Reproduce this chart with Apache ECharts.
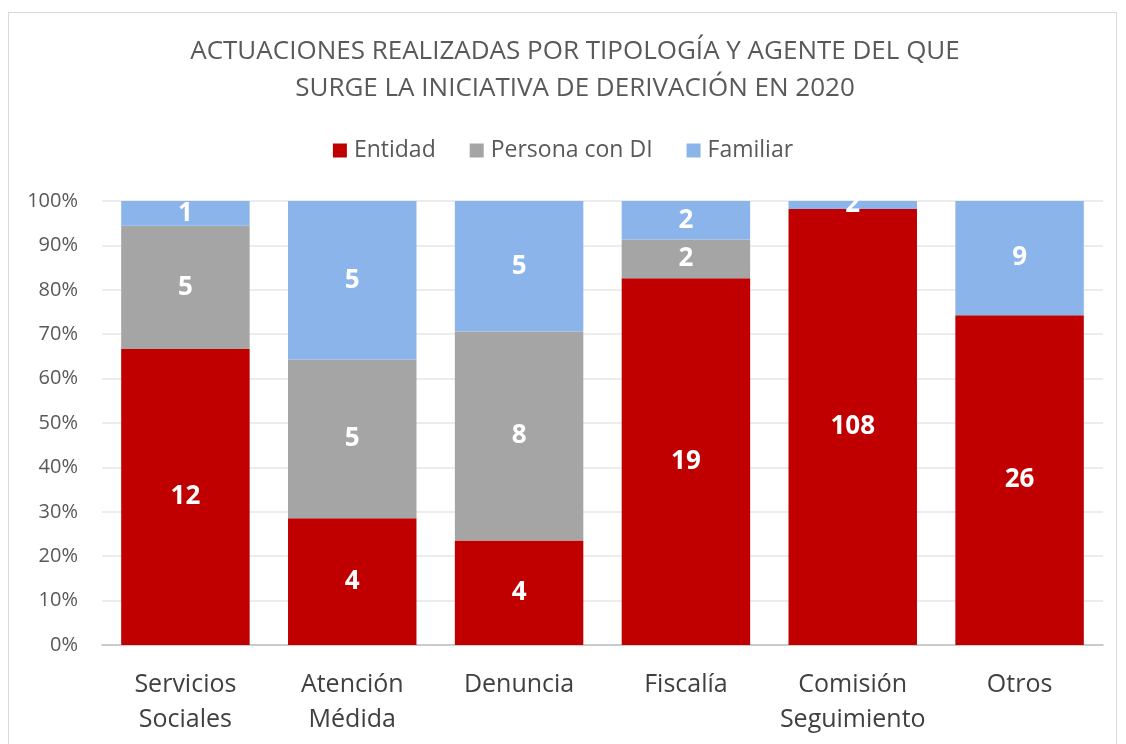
<!DOCTYPE html>
<html>
<head>
<meta charset="utf-8">
<script src="https://cdn.jsdelivr.net/npm/echarts@6/dist/echarts.min.js"></script>
<style>
  html, body { margin: 0; padding: 0; background: #fff; }
  #frame { position: absolute; left: 8px; top: 12px; width: 1109px; height: 760px; border: 1px solid #d9d9d9; box-sizing: border-box; }
  #chart { position: absolute; left: 0; top: 0; width: 1126px; height: 744px; }
</style>
</head>
<body>
<div id="frame"></div>
<div id="chart"></div>
<script>
var categories = ["Servicios\nSociales", "Atención\nMédida", "Denuncia", "Fiscalía", "Comisión\nSeguimiento", "Otros"];
var entidad = [12, 4, 4, 19, 108, 26];
var persona = [5, 5, 8, 2, 0, 0];
var familiar = [1, 5, 5, 2, 2, 9];

var totals = categories.map(function (c, i) {
  return entidad[i] + persona[i] + familiar[i];
});

function toPercent(arr) {
  return arr.map(function (v, i) {
    return { value: (v / totals[i]) * 100, count: v };
  });
}

var labelOpt = {
  show: true,
  position: "inside",
  color: "#fff",
  fontWeight: "bold",
  fontSize: 26,
  fontFamily: "Open Sans",
  formatter: function (p) {
    return p.data.count ? p.data.count : "";
  }
};

var chart = echarts.init(document.getElementById("chart"), null, { renderer: "canvas" });
chart.setOption({
  animation: false,
  title: {
    text: "ACTUACIONES REALIZADAS POR TIPOLOGÍA Y AGENTE DEL QUE\nSURGE LA INICIATIVA DE DERIVACIÓN EN 2020",
    left: 570,
    top: 28,
    textAlign: "center",
    textStyle: {
      fontFamily: "Open Sans",
      fontWeight: "normal",
      fontSize: 26,
      lineHeight: 37,
      color: "#595959"
    }
  },
  legend: {
    top: 134,
    left: "center",
    itemWidth: 14,
    itemHeight: 14,
    itemGap: 34,
    icon: "rect",
    textStyle: { fontFamily: "Open Sans", fontSize: 23, color: "#595959", padding: [0, 0, 0, 2] },
    data: ["Entidad", "Persona con DI", "Familiar"]
  },
  grid: { left: 102, right: 23, top: 201, bottom: 99 },
  xAxis: {
    type: "category",
    data: categories,
    axisTick: { show: false },
    axisLine: { lineStyle: { color: "#bfbfbf", width: 1.5 } },
    axisLabel: {
      fontFamily: "Open Sans",
      fontSize: 25,
      lineHeight: 35,
      color: "#404040",
      margin: 22,
      interval: 0
    }
  },
  yAxis: {
    type: "value",
    min: 0,
    max: 100,
    interval: 10,
    axisLine: { show: false },
    axisTick: { show: false },
    splitLine: { lineStyle: { color: "#e6e6e6", width: 1.5 } },
    axisLabel: {
      formatter: "{value}%",
      fontFamily: "Open Sans",
      fontSize: 20,
      color: "#595959",
      margin: 24
    }
  },
  series: [
    { name: "Entidad", type: "bar", stack: "t", barWidth: "77%", data: toPercent(entidad), itemStyle: { color: "#c00000" }, label: labelOpt },
    { name: "Persona con DI", type: "bar", stack: "t", data: toPercent(persona), itemStyle: { color: "#a5a5a5" }, label: labelOpt },
    { name: "Familiar", type: "bar", stack: "t", data: toPercent(familiar), itemStyle: { color: "#8ab4ea" }, label: labelOpt }
  ]
});
</script>
</body>
</html>
